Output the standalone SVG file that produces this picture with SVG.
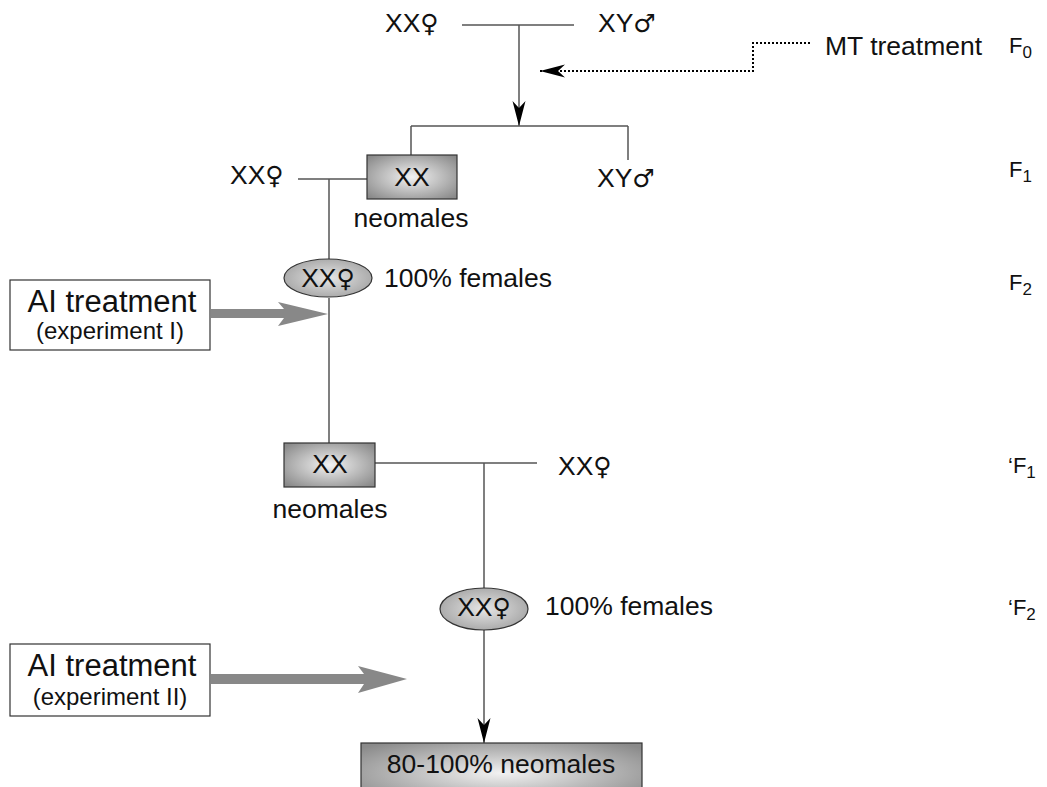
<svg xmlns="http://www.w3.org/2000/svg" width="1047" height="787" viewBox="0 0 1047 787">
<defs>
<radialGradient id="gbox" cx="50%" cy="50%" r="65%">
<stop offset="0" stop-color="#f2f2f2"/>
<stop offset="1" stop-color="#8a8a8a"/>
</radialGradient>
<radialGradient id="gell" cx="50%" cy="50%" r="60%">
<stop offset="0" stop-color="#e6e6e6"/>
<stop offset="1" stop-color="#a0a0a0"/>
</radialGradient>
<marker id="ah" markerUnits="userSpaceOnUse" markerWidth="30" markerHeight="16" viewBox="-26 -8 27 16" refX="0" refY="0" orient="auto">
<path d="M0,0 L-25,-6.5 L-18,0 L-25,6.5 Z" fill="#000"/>
</marker>
</defs>
<style>
text{font-family:"Liberation Sans",Arial,"DejaVu Sans",sans-serif;fill:#111}
.t{font-size:26.5px}
.big{font-size:31px}
.sm{font-size:24px}
.f{font-size:22px}
.sub{font-size:17px}
.sym{font-family:"DejaVu Sans",sans-serif;font-size:25px}
.ln{stroke:#555;stroke-width:1.5;fill:none}
.box{fill:url(#gbox);stroke:#333;stroke-width:1.2}
.ell{fill:url(#gell);stroke:#333;stroke-width:1.2}
.wbox{fill:#fff;stroke:#333;stroke-width:1.2}
.garrow{fill:#888}
.c{text-anchor:middle}
</style>
<rect width="1047" height="787" fill="#fff"/>

<g id="connectors">
<path class="ln" d="M462,25 H574"/>
<path class="ln" d="M519,25 V126" marker-end="url(#ah)"/>
<path class="ln" d="M411,126 H628"/>
<path class="ln" d="M411,126 V155"/>
<path class="ln" d="M628,126 V160"/>
<path d="M810,43 H753 V71 H540" fill="none" stroke="#000" stroke-width="2" stroke-dasharray="2,2" marker-end="url(#ah)"/>
<path class="ln" d="M298,179 H367"/>
<path class="ln" d="M329,179 V259"/>
<path class="ln" d="M329,298 V443"/>
<path class="ln" d="M375,463 H537"/>
<path class="ln" d="M484,463 V588"/>
<path class="ln" d="M484,630 V743" marker-end="url(#ah)"/>
<path class="garrow" d="M211,309 H284 L278,302 L328,314 L278,326 L284,318 H211 Z"/>
<path class="garrow" d="M211,674 H364 L358,666 L407,679 L358,693 L364,684 H211 Z"/>
</g>

<g id="f0-parents">
<text class="t" x="385" y="32">XX<tspan class="sym">♀</tspan></text>
<text class="t" x="598" y="32">XY<tspan class="sym">♂</tspan></text>
</g>
<g id="mt-treatment">
<text class="t" x="825" y="55">MT treatment</text>
</g>
<g id="gen-labels">
<text class="f" x="1009" y="53">F<tspan class="sub" dy="5">0</tspan></text>
<text class="f" x="1009" y="177">F<tspan class="sub" dy="5">1</tspan></text>
<text class="f" x="1009" y="290">F<tspan class="sub" dy="5">2</tspan></text>
<text class="f" x="1008" y="473">‘F<tspan class="sub" dy="5">1</tspan></text>
<text class="f" x="1008" y="615">‘F<tspan class="sub" dy="5">2</tspan></text>
</g>
<g id="f1-female">
<text class="t" x="230" y="184">XX<tspan class="sym">♀</tspan></text>
</g>
<g id="neomale1">
<rect class="box" x="367" y="155" width="90" height="44"/>
<text class="t c" x="412" y="186">XX</text>
<text class="t c" x="411" y="227">neomales</text>
</g>
<g id="f1-male">
<text class="t" x="597" y="187">XY<tspan class="sym">♂</tspan></text>
</g>
<g id="f2-females">
<ellipse class="ell" cx="328" cy="278" rx="44" ry="19"/>
<text class="t c" x="328" y="287">XX<tspan class="sym">♀</tspan></text>
<text class="t" x="384" y="287">100% females</text>
</g>
<g id="ai1">
<rect class="wbox" x="10" y="280" width="200" height="70"/>
<text class="big c" x="112" y="312">AI treatment</text>
<text class="sm c" x="110" y="339">(experiment I)</text>
</g>
<g id="neomale2">
<rect class="box" x="284" y="443" width="91" height="44"/>
<text class="t c" x="330" y="473">XX</text>
<text class="t c" x="330" y="518">neomales</text>
</g>
<g id="f1b-female">
<text class="t" x="558" y="475">XX<tspan class="sym">♀</tspan></text>
</g>
<g id="f2b-females">
<ellipse class="ell" cx="484" cy="609" rx="44" ry="21"/>
<text class="t c" x="484" y="616">XX<tspan class="sym">♀</tspan></text>
<text class="t" x="545" y="615">100% females</text>
</g>
<g id="ai2">
<rect class="wbox" x="10" y="644" width="200" height="72"/>
<text class="big c" x="112" y="676">AI treatment</text>
<text class="sm c" x="110" y="705">(experiment II)</text>
</g>
<g id="result">
<rect class="box" x="361" y="743" width="281" height="60"/>
<text class="t c" x="501" y="773">80-100% neomales</text>
</g>
</svg>
